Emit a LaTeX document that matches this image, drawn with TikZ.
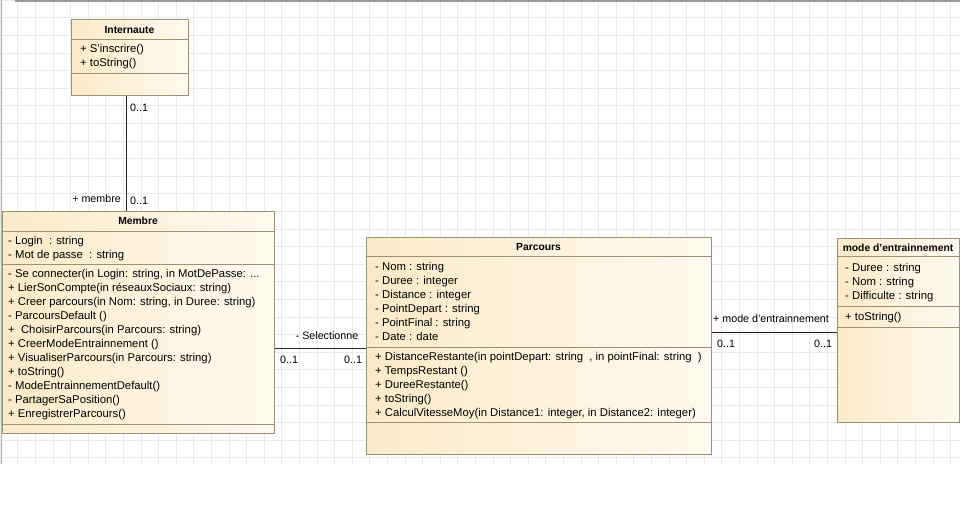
\documentclass[tikz,border=0pt]{standalone}
\usepackage{fontspec}
\setmainfont{Liberation Sans}
\newcommand{\apos}{\char"27 }
\newcommand{\threedots}{...}
\definecolor{gridc}{RGB}{234,234,234}
\definecolor{framec}{RGB}{155,145,115}
\definecolor{fillL}{RGB}{251,234,200}
\definecolor{fillR}{RGB}{255,250,240}
\tikzset{
  classbox/.style={draw=framec, line width=1pt, left color=fillL, right color=fillR, inner sep=0, anchor=north west},
  sepline/.style={draw=framec, line width=0.8pt},
  txt/.style={inner sep=0, anchor=base west, font=\fontsize{11.3}{13}\selectfont},
  ttl/.style={inner sep=0, anchor=base, font=\fontsize{10.3}{12}\selectfont\bfseries},
  lbl/.style={inner sep=0, font=\fontsize{10.7}{12}\selectfont},
  assoc/.style={draw=black!85, line width=0.8pt}
}
\begin{document}
\begin{tikzpicture}[x=1pt,y=-1pt]
\useasboundingbox (0,0) rectangle (960,531);
\fill[white] (0,0) rectangle (960,531);
% grid
\foreach \gx in {0,17.6,...,960} \draw[gridc, line width=0.6pt] (\gx,0) -- (\gx,464);
\foreach \gy in {0,17.6,...,464} \draw[gridc, line width=0.6pt] (0,\gy) -- (960,\gy);
\draw[black!40, line width=1.4pt] (15,1) -- (960,1);
\draw[black!30, line width=1pt] (1.5,0) -- (1.5,464);

% Internaute
\node[classbox, minimum width=117, minimum height=76] (internaute) at (71,19) {};
\draw[sepline] (71,39) -- (188,39);
\draw[sepline] (71,73) -- (188,73);
\node[ttl] (int-t) at (129.5,33) {Internaute};
\foreach \t [count=\i] in {{+ S\apos inscrire()},{+ toString()}}
  \node[txt] (int-o\i) at (80,{52+14*(\i-1)}) {\t};

% Membre
\node[classbox, minimum width=272, minimum height=222] (membre) at (2,211) {};
\draw[sepline] (2,231) -- (274,231);
\draw[sepline] (2,264) -- (274,264);
\draw[sepline] (2,424) -- (274,424);
\node[ttl] (mem-t) at (138,224) {Membre};
\foreach \t [count=\i] in {{- Login\ \ : string},{- Mot de passe\ \ : string}}
  \node[txt] (mem-a\i) at (8,{244+14*(\i-1)}) {\t};
\foreach \t [count=\i] in {{- Se connecter(in Login: string, in MotDePasse: \threedots},
  {+ LierSonCompte(in réseauxSociaux: string)},
  {+ Creer parcours(in Nom: string, in Duree: string)},
  {- ParcoursDefault ()},
  {+ \ ChoisirParcours(in Parcours: string)},
  {+ CreerModeEntrainnement ()},
  {+ VisualiserParcours(in Parcours: string)},
  {+ toString()},
  {- ModeEntrainnementDefault()},
  {- PartagerSaPosition()},
  {+ EnregistrerParcours()}}
  \node[txt] (mem-o\i) at (8,{277+14*(\i-1)}) {\t};

% Parcours
\node[classbox, minimum width=345, minimum height=217] (parcours) at (366,237) {};
\draw[sepline] (366,256) -- (711,256);
\draw[sepline] (366,347) -- (711,347);
\draw[sepline] (366,422) -- (711,422);
\node[ttl] (par-t) at (538.5,250) {Parcours};
\foreach \t [count=\i] in {{- Nom : string},{- Duree : integer},{- Distance : integer},
  {- PointDepart : string},{- PointFinal : string},{- Date : date}}
  \node[txt] (par-a\i) at (375,{270+14*(\i-1)}) {\t};
\foreach \t [count=\i] in {{+ DistanceRestante(in pointDepart: string\ \ , in pointFinal: string\ \ )},
  {+ TempsRestant ()},{+ DureeRestante()},{+ toString()},
  {+ CalculVitesseMoy(in Distance1: integer, in Distance2: integer)}}
  \node[txt] (par-o\i) at (375,{360+14*(\i-1)}) {\t};

% mode d'entrainement
\node[classbox, minimum width=122, minimum height=184] (mode) at (837,238) {};
\draw[sepline] (837,256) -- (959,256);
\draw[sepline] (837,306) -- (959,306);
\draw[sepline] (837,327) -- (959,327);
\node[ttl] (mod-t) at (898,251) {mode d\apos entrainnement};
\foreach \t [count=\i] in {{- Duree : string},{- Nom : string},{- Difficulte : string}}
  \node[txt] (mod-a\i) at (845,{271+14*(\i-1)}) {\t};
\node[txt] (mod-o1) at (845,320) {+ toString()};

% associations
\coordinate (c1) at (126,0);
\draw[assoc] (internaute.south -| c1) -- (membre.north -| c1);
\node[lbl, anchor=base west] (l1a) at (130,111) {0..1};
\node[lbl, anchor=base west] (l1b) at (130,204) {0..1};
\node[lbl, anchor=base east] (l1c) at (121,202) {+ membre};

\coordinate (c2) at (0,348);
\draw[assoc] (membre.east |- c2) -- (parcours.west |- c2);
\node[lbl, anchor=base] (l2a) at (327,339) {- Selectionne};
\node[lbl, anchor=base west] (l2b) at (280,363) {0..1};
\node[lbl, anchor=base west] (l2c) at (344,363) {0..1};

\coordinate (c3) at (0,332);
\draw[assoc] (parcours.east |- c3) -- (mode.west |- c3);
\node[lbl, anchor=base west] (l3a) at (713,322) {+ mode d\apos entrainnement};
\node[lbl, anchor=base west] (l3b) at (717,347) {0..1};
\node[lbl, anchor=base west] (l3c) at (814,347) {0..1};
\end{tikzpicture}
\end{document}
